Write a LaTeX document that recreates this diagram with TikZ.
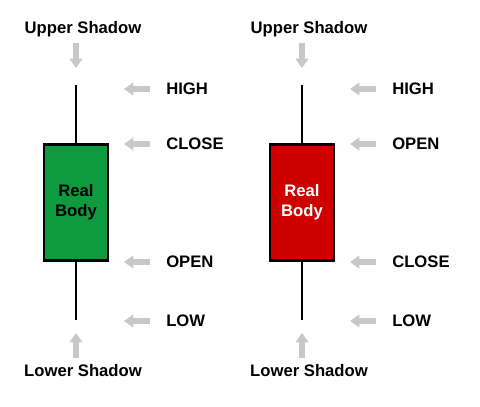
\documentclass[tikz,border=0pt]{standalone}
\usepackage{fontspec}
\setmainfont{Liberation Sans}
\usetikzlibrary{arrows.meta,positioning}
\definecolor{bullgreen}{HTML}{0E9A3E}
\definecolor{bearred}{HTML}{CE0000}
\definecolor{pointer}{HTML}{C8C8C8}
\tikzset{
  candlebody/.style={draw=black, line width=2.2pt, minimum width=48pt,
    minimum height=87pt, align=center, inner sep=0pt,
    font=\bfseries\fontsize{12.5}{15}\selectfont},
  wick/.style={draw=black, line width=2.2pt},
  pricelbl/.style={anchor=west, inner sep=0pt, font=\bfseries\fontsize{12.5}{15}\selectfont},
  shadowlbl/.style={inner sep=0pt, font=\bfseries\fontsize{12.5}{15}\selectfont},
  pointarr/.style={draw=pointer, line width=4.5pt, -{Triangle[length=7pt,width=9.5pt]}}
}
\begin{document}
\begin{tikzpicture}[x=0.75pt,y=-0.75pt]
  \useasboundingbox (0,0) rectangle (480,407);
  \foreach \cx/\id/\fillc/\txtc/\upper/\lower in {76/L/bullgreen/black/CLOSE/OPEN,302/R/bearred/white/OPEN/CLOSE} {
    % candle with its wicks
    \coordinate (high\id) at (\cx,85);
    \coordinate (low\id) at (\cx,320);
    \node[candlebody, fill=\fillc, text=\txtc] (body\id) at (\cx,202.5) {Real\\Body};
    \draw[wick] (high\id) -- (body\id.north);
    \draw[wick] (body\id.south) -- (low\id);
    % price labels
    \node[pricelbl] (hi\id) at (\cx+90,89) {HIGH};
    \node[pricelbl] (up\id) at (\cx+90,144) {\upper};
    \node[pricelbl] (dn\id) at (\cx+90,262) {\lower};
    \node[pricelbl] (lo\id) at (\cx+90,321) {LOW};
    \foreach \n in {hi,up,dn,lo}
      \draw[pointarr] ([xshift=-12pt]\n\id.west) -- ++(-26,0);
    % shadow labels
    \node[shadowlbl] (ushadow\id) at (\cx+7,29.5) {Upper Shadow};
    \node[shadowlbl] (lshadow\id) at (\cx+7,371) {Lower Shadow};
    \draw[pointarr] ([xshift=-5.25pt,yshift=-4pt]ushadow\id.south) -- ([yshift=12.75pt]high\id);
    \draw[pointarr] ([xshift=-5.25pt,yshift=5pt]lshadow\id.north) -- ([yshift=-9.75pt]low\id);
  }
\end{tikzpicture}
\end{document}
